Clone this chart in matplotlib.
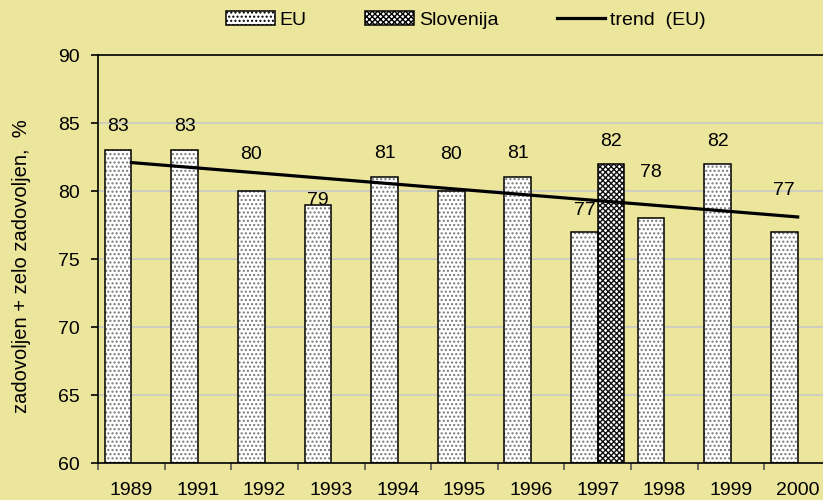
import numpy as np
import matplotlib.pyplot as plt
from matplotlib.patches import Patch
from matplotlib.lines import Line2D

plt.rcParams['font.family'] = ['Liberation Sans', 'DejaVu Sans']

years = ["1989", "1991", "1992", "1993", "1994", "1995", "1996", "1997", "1998", "1999", "2000"]
eu_values = [83, 83, 80, 79, 81, 80, 81, 77, 78, 82, 77]
slo_year = "1997"
slo_value = 82

BG = "#EBE69B"

fig = plt.figure(figsize=(8.23, 5.0), dpi=100, facecolor=BG)
ax = fig.add_axes([98 / 823, 37 / 500, 733 / 823, 408 / 500])
ax.set_facecolor(BG)

x = np.arange(len(years))
w = 0.4

# EU bars: dotted fill, then black outline on top
ax.bar(x - w / 2, [v - 60 for v in eu_values], w, bottom=60, color="white",
       hatch="....", edgecolor="#777777", linewidth=0, zorder=2)
ax.bar(x - w / 2, [v - 60 for v in eu_values], w, bottom=60, fill=False,
       edgecolor="black", linewidth=1.1, zorder=3)

# Slovenia bar
xs = years.index(slo_year)
ax.bar(xs + w / 2, slo_value - 60, w, bottom=60, color="white",
       hatch="xxxxxx", edgecolor="#111111", linewidth=0, zorder=2)
ax.bar(xs + w / 2, slo_value - 60, w, bottom=60, fill=False,
       edgecolor="black", linewidth=1.1, zorder=3)

# linear trend of EU
k, b = np.polyfit(x, eu_values, 1)
ax.plot(x, k * x + b, color="black", linewidth=2.3, zorder=4)

# value labels (offset in points above the bar top)
eu_offsets = [17, 17, 26, 3, 17, 26, 17, 15, 33, 16, 30]
for xi, v, off in zip(x, eu_values, eu_offsets):
    ax.annotate(str(v), (xi - w / 2, v), xytext=(0, off), textcoords="offset points",
                ha="center", va="center", fontsize=14, zorder=5)
ax.annotate(str(slo_value), (xs + w / 2, slo_value), xytext=(0, 16),
            textcoords="offset points", ha="center", va="center", fontsize=14, zorder=5)

ax.set_xlim(-0.5, len(years) - 0.5)
ax.set_ylim(60, 90)
ax.set_yticks(range(60, 91, 5))
ax.yaxis.grid(True, color="#C8C8C8", linewidth=1.2, zorder=0)
ax.set_axisbelow(True)

ax.set_xticks(x)
ax.set_xticklabels(years)
ax.set_xticks(np.arange(-0.5, len(years), 1), minor=True)
ax.tick_params(axis="x", which="major", length=0, pad=14, labelsize=14)
ax.tick_params(axis="x", which="minor", length=5, width=1.2, color="#555555")
ax.tick_params(axis="y", length=5, width=1.2, pad=8, labelsize=14)

for s in ["left", "bottom", "top"]:
    ax.spines[s].set_color("black")
    ax.spines[s].set_linewidth(1.2)
ax.spines["right"].set_visible(False)

fig.text(22 / 823, 1 - 266 / 500, "zadovoljen + zelo zadovoljen,  %", rotation=90,
         ha="center", va="center", fontsize=14.5)

handles = [
    Patch(facecolor="white", hatch="....", edgecolor="black", linewidth=1.1),
    Patch(facecolor="white", hatch="xxxxxx", edgecolor="black", linewidth=1.1),
    Line2D([0], [0], color="black", linewidth=2.3),
]
fig.legend(handles, ["EU", "Slovenija", "trend  (EU)"], loc="center",
           bbox_to_anchor=(466 / 823, 1 - 20 / 500), ncol=3, frameon=False,
           fontsize=14, handlelength=2.5, handleheight=0.75, handletextpad=0.25,
           columnspacing=3.0)

fig.savefig("out.png", dpi=100, facecolor=BG)
